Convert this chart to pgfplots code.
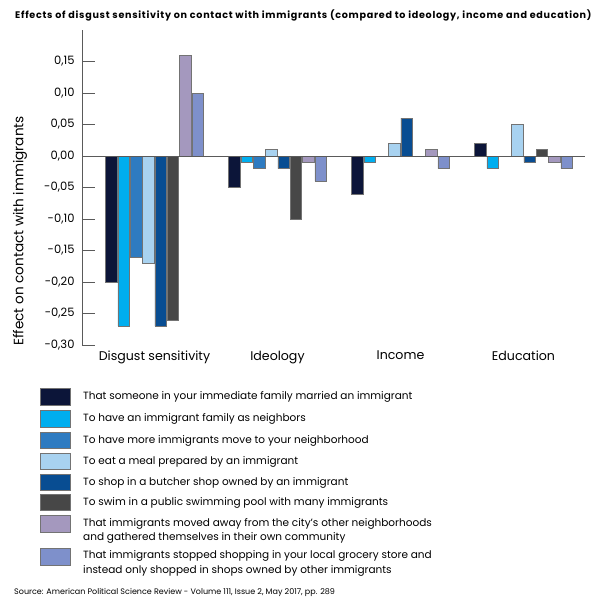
\documentclass[border=0pt]{standalone}
\usepackage{fontspec}
\setmainfont{Poppins}
\usepackage{pgfplots}
\usepackage{pgfplotstable}
\pgfplotsset{compat=1.18}
\definecolor{c1}{HTML}{0C1539}
\definecolor{c2}{HTML}{00AEEF}
\definecolor{c3}{HTML}{2E7BC1}
\definecolor{c4}{HTML}{A8D2F0}
\definecolor{c5}{HTML}{084D92}
\definecolor{c6}{HTML}{474747}
\definecolor{c7}{HTML}{A498BE}
\definecolor{c8}{HTML}{7E90CB}
\definecolor{axgray}{HTML}{5A5A5A}
\pgfplotstableread{
x a b c d e f g h
0 -0.20 -0.27 -0.16 -0.17 -0.27 -0.26 0.16 0.10
1 -0.05 -0.01 -0.02 0.01 -0.02 -0.10 -0.01 -0.04
2 -0.06 -0.01 nan 0.02 0.06 nan 0.01 -0.02
3 0.02 -0.02 nan 0.05 -0.01 0.01 -0.01 -0.02
}\data
\begin{document}
\begin{tikzpicture}
\path[use as bounding box] (0,0) rectangle (600bp,-600bp);
\begin{axis}[
  at={(82bp,-345bp)}, anchor=south west,
  scale only axis, width=503bp, height=315bp,
  xmin=-0.589, xmax=3.5, ymin=-0.30, ymax=0.20,
  ybar=0.8bp, bar width=11.5bp,
  axis lines*=left,
  x axis line style={draw=none},
  y axis line style={draw=axgray, line width=0.9bp},
  xtick={0,1,2,3},
  xticklabels={Disgust sensitivity, Ideology, Income, Education},
  xtick style={draw=none},
  xticklabel style={font=\fontsize{12.6bp}{14bp}\selectfont, yshift=-2.5bp},
  ytick={-0.3,-0.25,-0.2,-0.15,-0.1,-0.05,0,0.05,0.1,0.15},
  ytick style={draw=axgray, line width=0.9bp},
  tick align=inside, major tick length=13bp,
  yticklabel style={xshift=-4bp, font=\fontsize{11.5bp}{13bp}\selectfont, /pgf/number format/.cd, fixed, fixed zerofill, precision=2, use comma, assume math mode=true},
  every axis plot/.append style={draw=black!55, line width=0.5bp},
  clip=false,
]
\addplot[fill=c1] table[x=x,y=a]{\data};
\addplot[fill=c2] table[x=x,y=b]{\data};
\addplot[fill=c3] table[x=x,y=c]{\data};
\addplot[fill=c4] table[x=x,y=d]{\data};
\addplot[fill=c5] table[x=x,y=e]{\data};
\addplot[fill=c6] table[x=x,y=f]{\data};
\addplot[fill=c7] table[x=x,y=g]{\data};
\addplot[fill=c8] table[x=x,y=h]{\data};
\draw[axgray, line width=0.9bp] (axis cs:-0.5,0) -- (axis cs:3.5,0);
\pgfplotsinvokeforeach{-0.5,0.5,1.5,2.5,3.5}{
  \draw[axgray, line width=0.9bp] (axis cs:#1,0) ++(0,1bp) -- ++(0,-8bp);
}
\end{axis}
% y label
\node[rotate=90, font=\fontsize{13.6bp}{15bp}\selectfont] at (20bp,-231bp) {Effect on contact with immigrants};
% title
\node[anchor=base west, font=\bfseries\fontsize{9.6bp}{11bp}\selectfont\addfontfeature{LetterSpace=7.5}, inner sep=0] at (15bp,-18.5bp) {Effects of disgust sensitivity on contact with immigrants (compared to ideology, income and education)};
% legend
\tikzset{lsq/.style={draw=black!55, line width=0.6bp}, ltx/.style={anchor=base west, inner sep=0, font=\fontsize{10.5bp}{12bp}\selectfont}}
\filldraw[lsq, fill=c1] (40bp,-388bp) rectangle (70bp,-405bp);
\node[ltx] at (83bp,-399.5bp) {That someone in your immediate family married an immigrant};
\filldraw[lsq, fill=c2] (40bp,-410bp) rectangle (70bp,-427bp);
\node[ltx] at (83bp,-421.5bp) {To have an immigrant family as neighbors};
\filldraw[lsq, fill=c3] (40bp,-432bp) rectangle (70bp,-448bp);
\node[ltx] at (83bp,-443.5bp) {To have more immigrants move to your neighborhood};
\filldraw[lsq, fill=c4] (40bp,-453bp) rectangle (70bp,-469bp);
\node[ltx] at (83bp,-464.5bp) {To eat a meal prepared by an immigrant};
\filldraw[lsq, fill=c5] (40bp,-474bp) rectangle (70bp,-490bp);
\node[ltx] at (83bp,-485.5bp) {To shop in a butcher shop owned by an immigrant};
\filldraw[lsq, fill=c6] (40bp,-494bp) rectangle (70bp,-510bp);
\node[ltx] at (83bp,-505.5bp) {To swim in a public swimming pool with many immigrants};
\filldraw[lsq, fill=c7] (40bp,-515bp) rectangle (70bp,-532bp);
\node[ltx] at (83bp,-526.5bp) {That immigrants moved away from the city's other neighborhoods};
\node[ltx] at (83bp,-540.5bp) {and gathered themselves in their own community};
\filldraw[lsq, fill=c8] (40bp,-548bp) rectangle (70bp,-565bp);
\node[ltx] at (83bp,-558.5bp) {That immigrants stopped shopping in your local grocery store and};
\node[ltx] at (83bp,-573.5bp) {instead only shopped in shops owned by other immigrants};
% source
\node[anchor=base west, inner sep=0, font=\fontsize{8bp}{9bp}\selectfont] at (14bp,-594.5bp) {Source: American Political Science Review - Volume 111, Issue 2, May 2017, pp. 289};
\end{tikzpicture}
\end{document}
